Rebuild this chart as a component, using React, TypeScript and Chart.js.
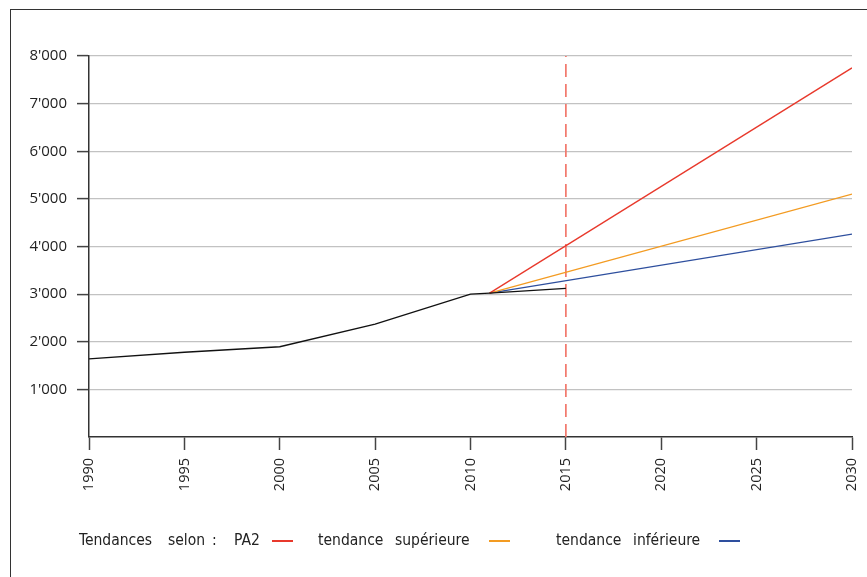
import React, { useEffect, useRef } from "react";
import { Chart, registerables } from "chart.js";

Chart.register(...registerables);

const histYears = [1990, 1995, 2000, 2005, 2010, 2011, 2015];
const histValues = [1640, 1780, 1895, 2370, 3000, 3020, 3120];
const trendYears = [2011, 2030];
const pa2Values = [3020, 7750];
const upperValues = [3020, 5100];
const lowerValues = [3020, 4260];
const markerYear = 2015;
const yTicks = [0, 1000, 2000, 3000, 4000, 5000, 6000, 7000, 8000];

const toPts = (xs: number[], ys: number[]) => xs.map((x, i) => ({ x, y: ys[i] }));
const fmt = (v: number) => {
  if (v === 0) return "";
  const s = String(Math.round(v));
  return s.replace(/\B(?=(\d{3})+(?!\d))/g, "'");
};

export default function App() {
  const ref = useRef<HTMLCanvasElement | null>(null);
  useEffect(() => {
    if (!ref.current) return;
    const chart = new Chart(ref.current, {
      type: "line",
      data: {
        datasets: [
          { data: toPts(histYears, histValues), borderColor: "#111", borderWidth: 1.4, pointRadius: 0, tension: 0 },
          { data: toPts(trendYears, pa2Values), borderColor: "#e8392c", borderWidth: 1.3, pointRadius: 0 },
          { data: toPts(trendYears, upperValues), borderColor: "#f39b22", borderWidth: 1.3, pointRadius: 0 },
          { data: toPts(trendYears, lowerValues), borderColor: "#2e4f9e", borderWidth: 1.3, pointRadius: 0 },
          {
            data: [{ x: markerYear, y: yTicks[0] }, { x: markerYear, y: yTicks[yTicks.length - 1] }],
            borderColor: "#f2786c", borderWidth: 1.7, borderDash: [13, 7], pointRadius: 0,
          },
        ],
      },
      options: {
        animation: false,
        responsive: true,
        maintainAspectRatio: false,
        layout: { padding: { top: 56, right: 15, left: 0, bottom: 0 } },
        plugins: { legend: { display: false }, tooltip: { enabled: false } },
        scales: {
          x: {
            type: "linear",
            min: 1990,
            max: 2030,
            afterFit: (s: any) => { s.height = 140; s.paddingRight = 0; s.paddingLeft = 0; },
            ticks: {
              stepSize: 5,
              minRotation: 90,
              maxRotation: 90,
              padding: 8,
              color: "#222",
              font: { family: "Open Sans", size: 14.5 },
              callback: (v: any) => String(v),
            },
            grid: { drawOnChartArea: false, drawTicks: true, tickLength: 13, tickColor: "#444", tickWidth: 1.5 },
            border: { display: true, color: "#333", width: 1.5 },
          },
          y: {
            min: 0,
            max: 8000,
            afterFit: (s: any) => { s.width = 89; s.paddingTop = 0; s.paddingBottom = 0; },
            afterBuildTicks: (s: any) => { s.ticks = yTicks.map((v) => ({ value: v })); },
            ticks: {
              padding: 10,
              color: "#222",
              font: { family: "Open Sans", size: 15 },
              callback: (v: any) => fmt(Number(v)),
            },
            grid: {
              color: (c: any) => (c.tick && c.tick.value === 0 ? "rgba(0,0,0,0)" : "#c2c2c2"),
              lineWidth: 1.2,
              tickLength: 12,
              tickColor: (c: any) => (c.tick && c.tick.value === 0 ? "rgba(0,0,0,0)" : "#444"),
              tickWidth: 1.5,
            },
            border: { display: true, color: "#333", width: 1.5 },
          },
        },
      },
    });
    return () => chart.destroy();
  }, []);

  const legendFont: React.CSSProperties = {
    position: "absolute",
    top: 531,
    fontFamily: "'Liberation Sans Narrow', 'DejaVu Sans Condensed', sans-serif",
    fontSize: 15.5,
    color: "#222",
    whiteSpace: "pre",
    lineHeight: "18px",
  };
  const word = (left: number, text: string) => (
    <div key={text + left} style={{ ...legendFont, left }}>{text}</div>
  );
  const line = (left: number, color: string): React.CSSProperties => ({
    position: "absolute", top: 540, left, width: 21, height: 1.6, background: color,
  });

  return (
    <div style={{ position: "absolute", left: 0, top: 0, width: 867, height: 577, background: "#fff", overflow: "hidden" }}>
      <div style={{ position: "absolute", left: 10, top: 9, width: 900, height: 600, borderLeft: "1.5px solid #333", borderTop: "1.5px solid #333" }} />
      <canvas ref={ref} style={{ position: "absolute", left: 0, top: 0, width: 867, height: 577 }} />
      {word(79, "Tendances")}
      {word(168, "selon")}
      {word(212, ":")}
      {word(234, "PA2")}
      <div style={line(272, "#e8392c")} />
      {word(318, "tendance")}
      {word(395, "supérieure")}
      <div style={line(489, "#f39b22")} />
      {word(556, "tendance")}
      {word(633, "inférieure")}
      <div style={line(719, "#2e4f9e")} />
    </div>
  );
}
